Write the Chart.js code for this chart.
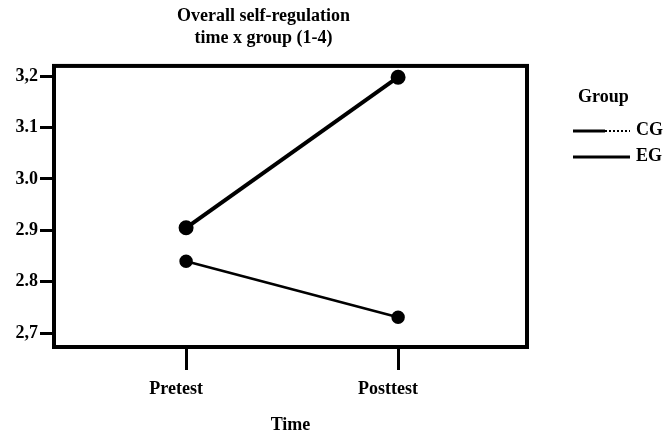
<!DOCTYPE html>
<html>
<head>
<meta charset="utf-8">
<script src="https://cdn.jsdelivr.net/npm/chart.js@4/dist/chart.umd.min.js"></script>
<style>
  body { margin: 0; background: #fff; }
  #wrap { width: 666px; height: 436px; }
</style>
</head>
<body>
<div id="wrap"><canvas id="chart" width="666" height="436"></canvas></div>
<script>
// data
const timeLabels = ['Pretest', 'Posttest'];
const groupNames = ['CG', 'EG'];
const cgMeans = [2.84, 2.731];
const egMeans = [2.905, 3.198];
const yTickValues = [2.7, 2.8, 2.9, 3.0, 3.1, 3.2];
const yTickLabels = ['2,7', '2.8', '2.9', '3.0', '3.1', '3,2'];

const fontFamily = "'Liberation Serif', 'DejaVu Serif', serif";

function toPoints(values) {
    return values.map((v, i) => ({ x: i + 1, y: v }));
}

// frame round the plot area
const framePlugin = {
    id: 'frame',
    afterDraw(chart) {
        const a = chart.chartArea;
        const ctx = chart.ctx;
        ctx.save();
        ctx.strokeStyle = '#000';
        ctx.lineWidth = 4;
        ctx.strokeRect(a.left, a.top, a.right - a.left, a.bottom - a.top);
        ctx.restore();
    }
};

// legend on the right with the "Group" heading
const groupLegend = {
    id: 'groupLegend',
    afterDraw(chart) {
        const ctx = chart.ctx;
        ctx.save();
        ctx.fillStyle = '#000';
        ctx.strokeStyle = '#000';
        ctx.font = 'bold 18px ' + fontFamily;
        ctx.textBaseline = 'middle';
        ctx.fillText('Group', 578, 97);
        chart.data.datasets.forEach((ds, i) => {
            const y = 131 + i * 26;
            ctx.lineWidth = 3;
            ctx.setLineDash([]);
            ctx.beginPath();
            ctx.moveTo(573, y);
            ctx.lineTo(i === 0 ? 605 : 630, y);
            ctx.stroke();
            if (i === 0) {
                // CG sample ends in a dotted stretch
                ctx.lineWidth = 2;
                ctx.setLineDash([2, 2]);
                ctx.beginPath();
                ctx.moveTo(605, y);
                ctx.lineTo(630, y);
                ctx.stroke();
            }
            ctx.fillText(ds.label, 636, y - 1);
        });
        ctx.restore();
    }
};

const ctx = document.getElementById('chart').getContext('2d');
new Chart(ctx, {
    type: 'line',
    data: {
        datasets: [
            {
                label: groupNames[0],
                data: toPoints(cgMeans),
                borderColor: '#000',
                backgroundColor: '#000',
                borderWidth: 2.5,
                pointRadius: 5.5,
                pointBackgroundColor: '#000'
            },
            {
                label: groupNames[1],
                data: toPoints(egMeans),
                borderColor: '#000',
                backgroundColor: '#000',
                borderWidth: 4,
                pointRadius: 5.5,
                pointBackgroundColor: '#000'
            }
        ]
    },
    options: {
        responsive: false,
        animation: false,
        layout: { padding: { right: 139 } },
        plugins: {
            legend: { display: false },
            tooltip: { enabled: false },
            title: {
                display: true,
                text: ['Overall self-regulation', 'time x group (1-4)'],
                color: '#000',
                font: { family: fontFamily, size: 18, weight: 'bold', lineHeight: 1.22 },
                padding: { top: 5, bottom: 17 },
                align: 'center'
            }
        },
        scales: {
            x: {
                type: 'linear',
                min: 0.377,
                max: 2.608,
                afterBuildTicks: scale => { scale.ticks = [{ value: 1 }, { value: 2 }]; },
                afterFit: scale => { scale.height = 89; },
                ticks: {
                    color: '#000',
                    padding: 9,
                    labelOffset: -10,
                    font: { family: fontFamily, size: 18, weight: 'bold' },
                    callback: v => timeLabels[v - 1]
                },
                grid: {
                    drawOnChartArea: false,
                    tickLength: 23,
                    tickWidth: 3,
                    tickColor: '#000'
                },
                border: { display: false },
                title: {
                    display: true,
                    text: 'Time',
                    color: '#000',
                    font: { family: fontFamily, size: 18, weight: 'bold' },
                    padding: { top: 10, bottom: 0 }
                }
            },
            y: {
                min: 2.673,
                max: 3.22,
                afterBuildTicks: scale => { scale.ticks = yTickValues.map(v => ({ value: v })); },
                afterFit: scale => { scale.width = 54; },
                ticks: {
                    color: '#000',
                    padding: 2,
                    font: { family: fontFamily, size: 18, weight: 'bold' },
                    callback: v => yTickLabels[yTickValues.findIndex(t => Math.abs(t - v) < 1e-6)]
                },
                grid: {
                    drawOnChartArea: false,
                    tickLength: 14,
                    tickWidth: 3,
                    tickColor: '#000'
                },
                border: { display: false }
            }
        }
    },
    plugins: [framePlugin, groupLegend]
});
</script>
</body>
</html>
